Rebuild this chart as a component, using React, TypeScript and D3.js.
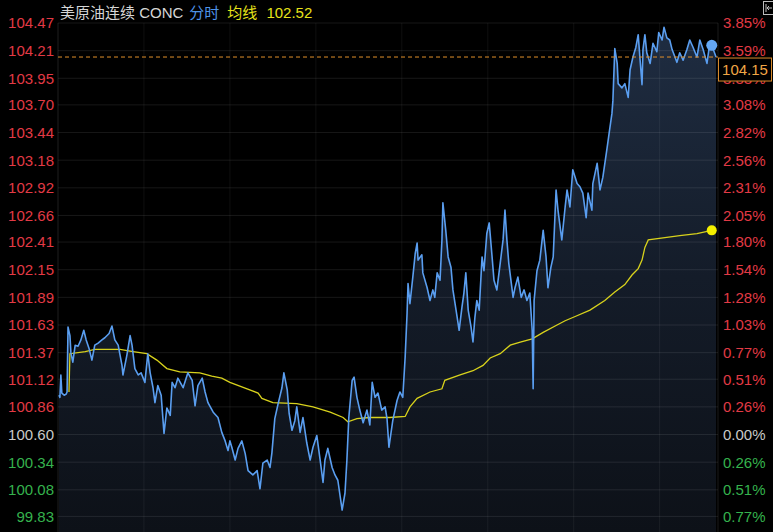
import React from 'react';
import * as d3 from 'd3';

const titleText = '美原油连续 CONC';
const modeText = '分时';
const avgLabel = '均线';
const avgValueText = '102.52';
const lastPriceText = '104.15';
const lastPrice = 104.15;
const basePrice = 100.6;

const leftLabels = ['104.47', '104.21', '103.95', '103.70', '103.44', '103.18', '102.92', '102.66', '102.41', '102.15', '101.89', '101.63', '101.37', '101.12', '100.86', '100.60', '100.34', '100.08', '99.83'];
const rightLabels = ['3.85%', '3.59%', '3.33%', '3.08%', '2.82%', '2.56%', '2.31%', '2.05%', '1.80%', '1.54%', '1.28%', '1.03%', '0.77%', '0.51%', '0.26%', '0.00%', '0.26%', '0.51%', '0.77%'];
const sessionMinutes = 1380;
const gridMinutes = [0, 180, 360, 540, 720, 900, 1080, 1260];

const minutes = [2, 4, 6, 8, 13, 17, 19, 21, 25, 27, 31, 36, 42, 48, 54, 59, 65, 71, 77, 84, 92, 98, 107, 113, 119, 126, 134, 136, 144, 151, 155, 161, 168, 174, 182, 188, 193, 199, 203, 209, 216, 222, 228, 235, 239, 245, 251, 262, 272, 281, 287, 293, 302, 308, 314, 325, 335, 343, 350, 356, 360, 364, 371, 377, 385, 392, 398, 408, 417, 423, 429, 438, 444, 448, 454, 461, 469, 473, 480, 484, 490, 496, 500, 507, 513, 521, 528, 534, 542, 549, 555, 559, 565, 574, 580, 586, 595, 601, 605, 609, 616, 620, 626, 632, 639, 647, 653, 658, 664, 670, 678, 685, 689, 693, 701, 710, 716, 722, 727, 731, 733, 737, 743, 748, 752, 754, 762, 764, 773, 779, 785, 789, 794, 800, 804, 806, 812, 817, 823, 827, 836, 840, 846, 850, 854, 859, 865, 869, 873, 877, 882, 888, 892, 898, 903, 909, 913, 919, 926, 932, 936, 940, 944, 953, 957, 963, 970, 976, 982, 988, 993, 995, 997, 1003, 1009, 1016, 1022, 1026, 1032, 1037, 1043, 1047, 1055, 1062, 1066, 1072, 1078, 1087, 1093, 1099, 1106, 1110, 1118, 1120, 1129, 1135, 1141, 1150, 1154, 1160, 1162, 1166, 1171, 1173, 1181, 1187, 1194, 1198, 1204, 1210, 1215, 1219, 1223, 1225, 1229, 1233, 1240, 1246, 1254, 1258, 1265, 1269, 1275, 1281, 1286, 1292, 1296, 1302, 1309, 1317, 1323, 1330, 1338, 1344, 1351, 1359, 1363, 1369, 1378];

const prices = [100.97, 100.95, 101.16, 100.99, 100.97, 100.98, 101.00, 101.61, 101.53, 101.37, 101.28, 101.44, 101.43, 101.49, 101.58, 101.49, 101.41, 101.30, 101.44, 101.46, 101.49, 101.51, 101.55, 101.62, 101.49, 101.44, 101.25, 101.16, 101.34, 101.53, 101.44, 101.22, 101.16, 101.18, 101.09, 101.36, 101.18, 101.04, 100.90, 101.06, 100.97, 100.61, 100.85, 100.78, 101.09, 101.04, 101.13, 101.04, 101.18, 101.11, 100.87, 101.06, 101.13, 101.00, 100.90, 100.81, 100.76, 100.62, 100.54, 100.45, 100.54, 100.48, 100.36, 100.47, 100.54, 100.42, 100.26, 100.22, 100.26, 100.09, 100.33, 100.36, 100.29, 100.43, 100.75, 100.89, 101.04, 101.18, 101.02, 100.80, 100.64, 100.73, 100.86, 100.62, 100.76, 100.52, 100.36, 100.48, 100.59, 100.36, 100.15, 100.36, 100.47, 100.29, 100.22, 100.17, 99.89, 100.05, 100.36, 100.76, 101.11, 101.14, 100.95, 100.83, 100.71, 100.83, 100.69, 101.09, 100.95, 100.99, 100.83, 100.86, 100.75, 100.48, 100.73, 100.92, 101.00, 100.95, 101.33, 101.74, 102.02, 101.83, 102.08, 102.30, 102.40, 102.24, 102.29, 102.12, 101.98, 101.86, 101.96, 101.89, 102.12, 102.05, 102.43, 102.78, 102.52, 102.27, 102.17, 101.96, 101.70, 101.58, 101.80, 101.93, 102.12, 101.77, 101.61, 101.47, 101.70, 101.86, 101.77, 102.27, 102.14, 102.49, 102.59, 102.27, 102.05, 101.96, 102.21, 102.43, 102.71, 102.43, 102.21, 101.89, 101.98, 102.08, 101.89, 101.96, 101.86, 101.93, 101.58, 101.03, 101.86, 102.14, 102.24, 102.52, 102.27, 101.98, 102.17, 102.27, 102.90, 102.71, 102.43, 102.74, 102.90, 102.74, 103.09, 102.96, 102.93, 102.87, 102.64, 102.87, 102.71, 102.96, 103.15, 102.90, 103.02, 103.30, 103.43, 103.62, 103.74, 104.23, 104.09, 103.90, 103.86, 103.90, 103.77, 104.03, 104.15, 104.24, 104.36, 104.12, 103.89, 104.22, 104.36, 104.19, 104.09, 104.28, 104.20, 104.38, 104.31, 104.43, 104.33, 104.31, 104.22, 104.15, 104.10, 104.19, 104.12, 104.22, 104.31, 104.24, 104.15, 104.31, 104.22, 104.09, 104.22, 104.26, 104.15];

const avgMinutes = [23, 25, 57, 77, 109, 130, 157, 186, 207, 228, 255, 297, 322, 343, 360, 396, 419, 427, 450, 500, 534, 570, 597, 607, 626, 653, 695, 727, 737, 752, 779, 804, 810, 842, 869, 890, 905, 926, 947, 968, 993, 1016, 1045, 1062, 1083, 1114, 1145, 1166, 1187, 1202, 1215, 1223, 1229, 1236, 1267, 1302, 1338, 1369];
const avgPrices = [101.00, 101.36, 101.38, 101.40, 101.40, 101.40, 101.38, 101.36, 101.30, 101.22, 101.19, 101.18, 101.15, 101.13, 101.09, 101.03, 100.99, 100.94, 100.90, 100.89, 100.86, 100.81, 100.76, 100.72, 100.75, 100.76, 100.76, 100.77, 100.86, 100.94, 101.00, 101.03, 101.11, 101.16, 101.20, 101.25, 101.32, 101.36, 101.44, 101.47, 101.50, 101.56, 101.63, 101.67, 101.71, 101.77, 101.86, 101.94, 102.01, 102.10, 102.16, 102.24, 102.36, 102.43, 102.45, 102.47, 102.49, 102.52];

const W = 773;
const H = 532;
const FONT = '"Liberation Sans", Arial, "Noto Sans CJK SC", sans-serif';
const RED = '#e23a45';
const GREEN = '#35b24d';
const GRAY = '#c9c9c9';

export default function App() {
  const x = d3.scaleLinear().domain([0, sessionMinutes]).range([58, 717]);
  const yLo = +leftLabels[leftLabels.length - 1];
  const yHi = +leftLabels[0];
  const y = d3.scaleLinear().domain([yLo, yHi]).range([516.4, 23]);

  const pts: [number, number][] = minutes.map((m, i) => [m, prices[i]]);
  const avgPts: [number, number][] = avgMinutes.map((m, i) => [m, avgPrices[i]]);

  const line = d3.line<[number, number]>().x((d) => x(d[0])).y((d) => y(d[1]));
  const area = d3
    .area<[number, number]>()
    .x((d) => x(d[0]))
    .y0(H)
    .y1((d) => y(d[1]));

  const dotPt = pts[pts.length - 2];
  const avgEnd = avgPts[avgPts.length - 1];
  const tickY = leftLabels.map((l) => y(+l));
  const boxTop = y(lastPrice) + 1;

  const colorFor = (i: number) => {
    const v = +leftLabels[i];
    if (Math.abs(v - basePrice) < 0.005) return GRAY;
    return v > basePrice ? RED : GREEN;
  };

  return (
    <svg
      width={W}
      height={H}
      style={{ position: 'fixed', left: 0, top: 0, background: '#000', display: 'block' }}
      fontFamily={FONT}
    >
      <defs>
        <linearGradient id="fillGrad" gradientUnits="userSpaceOnUse" x1="0" y1="23" x2="0" y2={H}>
          <stop offset="0" stopColor="#1f2d42" />
          <stop offset="0.5" stopColor="#141c29" />
          <stop offset="1" stopColor="#0d1118" />
        </linearGradient>
        <clipPath id="plotClip">
          <rect x={58} y={0} width={660} height={H} />
        </clipPath>
        <clipPath id="hiddenLabelClip">
          <rect x={718} y={boxTop + 23} width={55} height={10} />
        </clipPath>
      </defs>
      <rect x={0} y={0} width={W} height={H} fill="#000" />

      <g clipPath="url(#plotClip)">
        <path d={area(pts) || ''} fill="url(#fillGrad)" />
      </g>

      {/* grid */}
      {tickY.map((ty, i) => (
        <line key={'h' + i} x1={58} x2={718} y1={ty} y2={ty} stroke="#ffffff" strokeOpacity={0.09} strokeWidth={1} />
      ))}
      {gridMinutes.map((m, i) => (
        <line key={'v' + i} x1={x(m)} x2={x(m)} y1={23} y2={H} stroke="#ffffff" strokeOpacity={i === 0 ? 0.12 : 0.06} strokeWidth={1} />
      ))}
      <line x1={718} x2={718} y1={23} y2={H} stroke="#ffffff" strokeOpacity={0.1} />

      {/* avg line */}
      <path d={line(avgPts) || ''} fill="none" stroke="#d8d21c" strokeWidth={1.3} />
      {/* price line */}
      <path d={line(pts) || ''} fill="none" stroke="#5a9ef0" strokeWidth={1.6} strokeLinejoin="round" />

      {/* last price dashed */}
      <line x1={58} x2={718} y1={y(lastPrice)} y2={y(lastPrice)} stroke="#e0902a" strokeWidth={1} strokeDasharray="4,3" />

      <circle cx={x(dotPt[0])} cy={y(dotPt[1])} r={5.5} fill="#64a8f6" />
      <circle cx={x(avgEnd[0])} cy={y(avgEnd[1])} r={5} fill="#f4f000" />

      {/* left labels */}
      {leftLabels.map((l, i) => (
        <text key={'l' + i} x={54} y={tickY[i]} dy="0.36em" textAnchor="end" fontSize={15} fill={colorFor(i)}>
          {l}
        </text>
      ))}
      {/* right labels (the one under the price box only peeks out below it) */}
      {rightLabels.map((l, i) => {
        const hidden = tickY[i] > boxTop - 4 && tickY[i] < boxTop + 26;
        return (
          <text
            key={'r' + i}
            x={723}
            y={tickY[i]}
            dy="0.36em"
            textAnchor="start"
            fontSize={15}
            fill={colorFor(i)}
            clipPath={hidden ? 'url(#hiddenLabelClip)' : undefined}
          >
            {l}
          </text>
        );
      })}

      {/* last price box */}
      <rect x={718.5} y={boxTop} width={53} height={23} fill="#000" stroke="#d98a2b" strokeWidth={1} />
      <text x={745} y={boxTop + 11.5} dy="0.36em" textAnchor="middle" fontSize={15} fill="#f0a645">
        {lastPriceText}
      </text>

      {/* header */}
      <text x={60} y={18} fontSize={15}>
        <tspan fill="#d6d6d6">{titleText}</tspan>
        <tspan fill="#4f94e8" dx={6}>{modeText}</tspan>
        <tspan fill="#e6e21a" dx={8}>{avgLabel}</tspan>
        <tspan fill="#e6e21a" dx={9}>{avgValueText}</tspan>
      </text>

      {/* top-right icon */}
      <rect x={763.5} y={1.5} width={10} height={13} fill="none" stroke="#bdbdbd" strokeWidth={1} />
      <line x1={766} x2={766} y1={4} y2={12} stroke="#bdbdbd" />
      <line x1={767} x2={772} y1={8} y2={8} stroke="#bdbdbd" />
      <path d="M769,6 L767,8 L769,10" fill="none" stroke="#bdbdbd" />
    </svg>
  );
}
